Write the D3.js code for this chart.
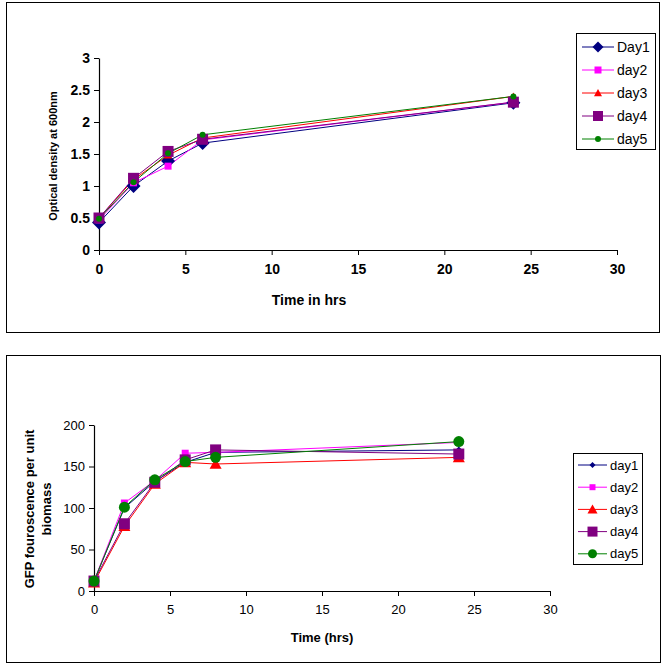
<!DOCTYPE html>
<html><head><meta charset="utf-8">
<script src="https://cdn.jsdelivr.net/npm/d3@7"></script>
<style>body{margin:0;background:#fff}svg{display:block}text{font-family:"Liberation Sans",Arial,sans-serif}</style>
</head><body><svg id="c" width="665" height="666"></svg>
<script>
// ---- data: top chart (optical density) ----
const odTimes = [0, 2, 4, 6, 24];
const odSeriesNames = ["Day1", "day2", "day3", "day4", "day5"];
const odDay1 = [0.43, 1.00, 1.39, 1.67, 2.30];
const odDay2 = [0.47, 1.05, 1.31, 1.72, 2.31];
const odDay3 = [0.50, 1.10, 1.48, 1.75, 2.40];
const odDay4 = [0.50, 1.12, 1.54, 1.73, 2.31];
const odDay5 = [0.49, 1.06, 1.51, 1.80, 2.40];
const odYTicks = [0, 0.5, 1, 1.5, 2, 2.5, 3];
const odXTicks = [0, 5, 10, 15, 20, 25, 30];

// ---- data: bottom chart (GFP fluorescence) ----
const gfpTimes = [0, 2, 4, 6, 8, 24];
const gfpSeriesNames = ["day1", "day2", "day3", "day4", "day5"];
const gfpDay1 = [12, 100, 132, 155, 167, 170];
const gfpDay2 = [12, 106, 133, 166, 167, 179];
const gfpDay3 = [10, 78, 129, 155, 153, 161];
const gfpDay4 = [12, 81, 131, 158, 170, 165];
const gfpDay5 = [12, 101, 134, 156, 161, 180];
const gfpYTicks = [0, 50, 100, 150, 200];
const gfpXTicks = [0, 5, 10, 15, 20, 25, 30];

const colors = ["#000080", "#ff00ff", "#ff0000", "#800080", "#008000"];

const svg = d3.select("#c");

function drawMarker(g, type, size, color) {
  const h = size / 2;
  let d;
  if (type === "diamond") d = `M0,${-h}L${h},0L0,${h}L${-h},0Z`;
  else if (type === "square") d = `M${-h},${-h}h${size}v${size}h${-size}Z`;
  else if (type === "triangle") d = `M0,${-h}L${h},${h * 0.8}L${-h},${h * 0.8}Z`;
  else d = d3.symbol().type(d3.symbolCircle).size(Math.PI * h * h)();
  return g.append("path").attr("d", d).attr("fill", color).attr("stroke", "none");
}

function chart(cfg) {
  const g = svg.append("g");
  g.append("rect").attr("x", cfg.box[0] + 0.5).attr("y", cfg.box[1] + 0.5)
    .attr("width", cfg.box[2]).attr("height", cfg.box[3])
    .attr("fill", "#fff").attr("stroke", "#000").attr("stroke-width", 1);

  const x = d3.scaleLinear().domain([0, 30]).range(cfg.xr);
  const y = d3.scaleLinear().domain(cfg.yd).range(cfg.yr);

  const xa = g.append("g").attr("transform", `translate(0,${cfg.yr[0]})`)
    .call(d3.axisBottom(x).tickValues(cfg.xticks).tickSize(5).tickSizeOuter(0).tickPadding(cfg.xpad).tickFormat(d3.format("")));
  const ya = g.append("g").attr("transform", `translate(${cfg.xr[0]},0)`)
    .call(d3.axisLeft(y).tickValues(cfg.yticks).tickSize(5).tickSizeOuter(0).tickPadding(4).tickFormat(d => String(d)));
  [xa, ya].forEach(a => {
    a.select(".domain").attr("stroke", "#000").attr("stroke-width", 1.2);
    a.selectAll(".tick line").attr("stroke", "#000");
    a.selectAll("text").attr("fill", "#000").style("font-size", cfg.tickFont + "px")
      .style("font-weight", cfg.tickBold ? "bold" : "normal").style("font-family", '"Liberation Sans", Arial, sans-serif');
  });

  const line = d3.line().x((d, i) => x(cfg.times[i])).y(d => y(d));
  cfg.series.forEach((s, k) => {
    g.append("path").datum(s).attr("d", line).attr("fill", "none").attr("stroke", colors[k]).attr("stroke-width", 1);
  });
  cfg.series.forEach((s, k) => {
    s.forEach((v, i) => {
      drawMarker(g, cfg.markers[k], cfg.msizes[k], colors[k])
        .attr("transform", `translate(${x(cfg.times[i])},${y(v)})`);
    });
  });

  // axis titles
  g.append("text").attr("x", cfg.xtitle[0]).attr("y", cfg.xtitle[1]).attr("text-anchor", "middle")
    .style("font-weight", "bold").style("font-size", cfg.xtitle[3] + "px").text(cfg.xtitle[2]);
  cfg.ytitle.lines.forEach((t, i) => {
    g.append("text").attr("transform", `translate(${cfg.ytitle.xs[i]},${cfg.ytitle.cy}) rotate(-90)`)
      .attr("text-anchor", "middle").style("font-weight", "bold").style("font-size", cfg.ytitle.size + "px").text(t);
  });

  // legend
  const L = cfg.legend;
  g.append("rect").attr("x", L.box[0] + 0.5).attr("y", L.box[1] + 0.5).attr("width", L.box[2]).attr("height", L.box[3])
    .attr("fill", "#fff").attr("stroke", "#000");
  cfg.names.forEach((n, k) => {
    const yy = L.y0 + k * L.dy;
    g.append("line").attr("x1", L.x1).attr("x2", L.x2).attr("y1", yy).attr("y2", yy).attr("stroke", colors[k]);
    drawMarker(g, cfg.markers[k], L.msizes[k], colors[k]).attr("transform", `translate(${(L.x1 + L.x2) / 2},${yy})`);
    g.append("text").attr("x", L.tx).attr("y", yy).attr("dy", "0.35em").style("font-size", L.size + "px").text(n);
  });
}

chart({
  box: [6, 2, 653, 330],
  xr: [99, 617], yd: [0, 3], yr: [250, 58],
  xticks: odXTicks, yticks: odYTicks, tickFont: 14, tickBold: true, xpad: 9,
  times: odTimes,
  series: [odDay1, odDay2, odDay3, odDay4, odDay5],
  names: odSeriesNames,
  markers: ["diamond", "square", "triangle", "square", "circle"],
  msizes: [14, 7, 8, 11, 6],
  xtitle: [309, 305, "Time in hrs", 14],
  ytitle: {lines: ["Optical density at 600nm"], xs: [57], cy: 156, size: 11},
  legend: {box: [576, 33, 79, 116], y0: 47, dy: 23, x1: 582, x2: 614, tx: 617, size: 14, msizes: [11, 7, 8, 10, 6]}
});

chart({
  box: [6, 355, 654, 307],
  xr: [94, 550], yd: [0, 200], yr: [591, 425],
  xticks: gfpXTicks, yticks: gfpYTicks, tickFont: 13, tickBold: false, xpad: 9,
  times: gfpTimes,
  series: [gfpDay1, gfpDay2, gfpDay3, gfpDay4, gfpDay5],
  names: gfpSeriesNames,
  markers: ["diamond", "square", "triangle", "square", "circle"],
  msizes: [7, 7, 12, 11, 11],
  xtitle: [322, 642, "Time (hrs)", 13],
  ytitle: {lines: ["GFP fouroscence per unit", "biomass"], xs: [34, 51], cy: 509, size: 13},
  legend: {box: [573, 453, 69, 111], y0: 465, dy: 22.2, x1: 578, x2: 607, tx: 610, size: 13, msizes: [6, 6, 10, 10, 9]}
});
</script></body></html>
